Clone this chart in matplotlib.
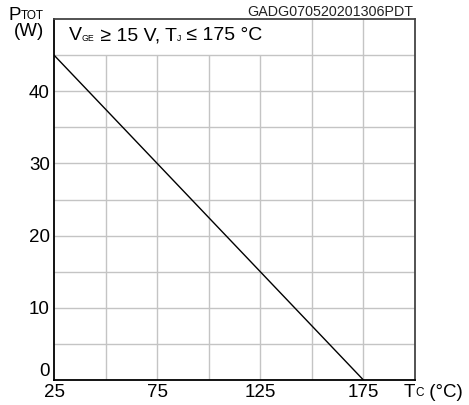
import matplotlib
matplotlib.use("Agg")
import matplotlib.pyplot as plt

plt.rcParams["font.family"] = ["Liberation Sans", "DejaVu Sans"]

# Power derating curve
tc = [25, 175]
ptot = [45, 0]

x_ticks = [25, 75, 125, 175]
x_grid = [50, 75, 100, 125, 150, 175]
y_ticks = [0, 10, 20, 30, 40]
y_grid = [5, 10, 15, 20, 25, 30, 35, 40, 45]

W, H = 469, 405
fig = plt.figure(figsize=(W / 100, H / 100), dpi=100)
ax = fig.add_axes([54 / W, 25 / H, 361 / W, 361 / H])
ax.set_xlim(25, 200)
ax.set_ylim(0, 50)

grid_c = "#c4c4c4"
ax.hlines(y_grid, 25, 200, color=grid_c, lw=1.0, zorder=1)
for x in x_grid:
    top = 50 if x >= 150 else 45
    ax.vlines(x, 0, top, color=grid_c, lw=1.0, zorder=1)

ax.plot(tc, ptot, color="black", lw=1.0, zorder=3)

for s in ["left", "bottom"]:
    ax.spines[s].set_color("black")
    ax.spines[s].set_linewidth(1.3)
for s in ["top", "right"]:
    ax.spines[s].set_color("#444444")
    ax.spines[s].set_linewidth(1.3)

ax.set_xticks(x_ticks)
ax.set_xticklabels([str(v) for v in x_ticks])
ax.set_yticks(y_ticks)
ax.set_yticklabels([str(v) for v in y_ticks])
ax.tick_params(length=0, labelsize=13.5, colors="black")
ax.tick_params(axis="x", pad=3)
ax.tick_params(axis="y", pad=3)
ax.get_yticklabels()[0].set_va("bottom")


def text_run(x, y, pieces):
    # pieces: (string, fontsize, baseline shift in points); each piece
    # is placed right after the previous one
    first, size, _ = pieces[0]
    prev = fig.text(x / W, 1 - y / H, first, fontsize=size, va="baseline")
    for s, size, dy in pieces[1:]:
        prev = fig.add_artist(plt.Annotation(
            s, xy=(1, 0), xycoords=prev, xytext=(0, dy),
            textcoords="offset points", fontsize=size, va="bottom"))
    return prev


small = 6.3
text_run(69, 40.5, [("V", 14, 0), ("GE", small, 1.4), (" ≥ 15 V, T", 14, -1.4),
                    ("J", small, 1.4), (" ≤ 175 °C", 14, -1.4)])
text_run(8, 20, [("P", 13.5, 0), ("TOT", 8.5, 1.5)])
fig.text(44 / W, 1 - 36 / H, "(W)", fontsize=13.5, va="baseline", ha="right")
fig.text(413 / W, 1 - 15.5 / H, "GADG070520201306PDT", fontsize=10.3,
         va="baseline", ha="right", color="#222222")
text_run(404, 397, [("T", 13.5, 0), ("C", 8.5, 1.2), (" (°C)", 13.5, -1.2)])

fig.savefig("out.png", dpi=100, facecolor="white")
